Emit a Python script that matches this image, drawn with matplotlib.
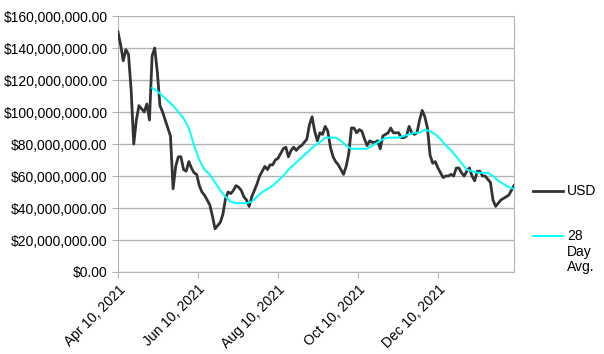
import pandas as pd
import matplotlib
matplotlib.use("Agg")
import matplotlib.pyplot as plt
import matplotlib.dates as mdates
from matplotlib.lines import Line2D
from matplotlib.ticker import FuncFormatter

plt.rcParams['font.family'] = ['Liberation Sans', 'DejaVu Sans']

# ---- data (millions of USD) ----
start_date = "2021-04-10"
usd_step_days = 2
usd_millions = [
    150, 142, 132, 139, 136, 114, 80, 95, 104, 102,
    100, 105, 95, 135, 140, 125, 104, 100, 95, 90,
    85, 52, 66, 72, 72, 64, 63, 69, 65, 62,
    61, 54, 50, 48, 45, 42, 35, 27, 29, 31,
    36, 46, 50, 49, 51, 54, 53, 51, 47, 45,
    41, 47, 51, 55, 60, 63, 66, 64, 67, 67,
    70, 71, 74, 77, 78, 72, 76, 78, 76, 78,
    79, 81, 83, 92, 97, 88, 82, 87, 86, 91,
    88, 78, 72, 69, 67, 64, 61, 66, 74, 90,
    90, 87, 89, 88, 83, 79, 82, 81, 81, 82,
    77, 85, 86, 87, 90, 87, 87, 87, 84, 84,
    85, 91, 87, 86, 87, 95, 101, 97, 90, 73,
    68, 69, 65, 62, 59, 60, 60, 61, 60, 65,
    65, 62, 60, 63, 65, 60, 57, 63, 63, 60,
    60, 58, 56, 45, 41, 43, 45, 46, 47, 48,
    51, 54,
]

avg_start_offset_days = 26
avg_step_days = 4
avg_millions = [
    115, 113, 110, 107, 104, 100, 96, 90, 79, 70,
    64, 61, 56, 51, 47, 44, 43, 43, 43, 44,
    47, 50, 52, 54, 57, 60, 64, 67, 70, 73,
    76, 79, 81, 84, 84, 84, 82, 79, 77, 77,
    77, 77, 79, 81, 83, 84, 84, 84, 85, 86,
    87, 87, 89, 88, 86, 83, 79, 76, 72, 68,
    64, 63, 62, 62, 62, 60, 57, 55, 53, 52,
]

tick_dates = ["2021-04-10", "2021-06-10", "2021-08-10", "2021-10-10", "2021-12-10"]
y_ticks = [0, 20e6, 40e6, 60e6, 80e6, 100e6, 120e6, 140e6, 160e6]
series_labels = ["USD", "28\nDay\nAvg."]

usd_dates = pd.date_range(start_date, periods=len(usd_millions), freq=f"{usd_step_days}D")
avg_dates = pd.date_range(pd.Timestamp(start_date) + pd.Timedelta(days=avg_start_offset_days),
                          periods=len(avg_millions), freq=f"{avg_step_days}D")
usd = [v * 1e6 for v in usd_millions]
avg = [v * 1e6 for v in avg_millions]

# ---- plot ----
W, H = 604, 354
fig = plt.figure(figsize=(W / 100, H / 100), dpi=100)
ax = fig.add_axes([118 / W, 1 - 272 / H, 396 / W, 256 / H])

grid_col = '#b3b3b3'
usd_col = '#333333'
avg_col = '#00ffff'
ax.plot(usd_dates, usd, color=usd_col, linewidth=2.0, zorder=3)
ax.plot(avg_dates, avg, color=avg_col, linewidth=1.4, zorder=4)

ax.set_ylim(0, 160e6)
ax.set_yticks(y_ticks)
ax.yaxis.set_major_formatter(FuncFormatter(lambda v, p: f"${v:,.2f}"))
ax.set_xlim(pd.Timestamp(start_date), usd_dates[-1])
ax.set_xticks(pd.to_datetime(tick_dates))
ax.xaxis.set_major_formatter(mdates.DateFormatter("%b %d, %Y"))
plt.setp(ax.get_xticklabels(), rotation=45, ha='right', rotation_mode='anchor')

ax.grid(axis='y', color=grid_col, linewidth=1.0)
ax.set_axisbelow(True)
for side in ['left', 'bottom', 'right']:
    ax.spines[side].set_color(grid_col)
ax.spines['top'].set_visible(False)
ax.tick_params(axis='both', colors=grid_col, labelcolor='black', labelsize=10, length=4)

# legend drawn by hand so the swatch sits on the first text line
for (label, col, lw, ypix) in [(series_labels[0], usd_col, 2.0, 191),
                               (series_labels[1], avg_col, 1.4, 236)]:
    y = 1 - ypix / H
    fig.add_artist(Line2D([533 / W, 563 / W], [y, y], color=col, linewidth=lw))
    fig.text(567 / W, y + 7 / H, label, fontsize=10, va='top', ha='left',
             linespacing=1.15)

fig.savefig("out.png", dpi=100)
